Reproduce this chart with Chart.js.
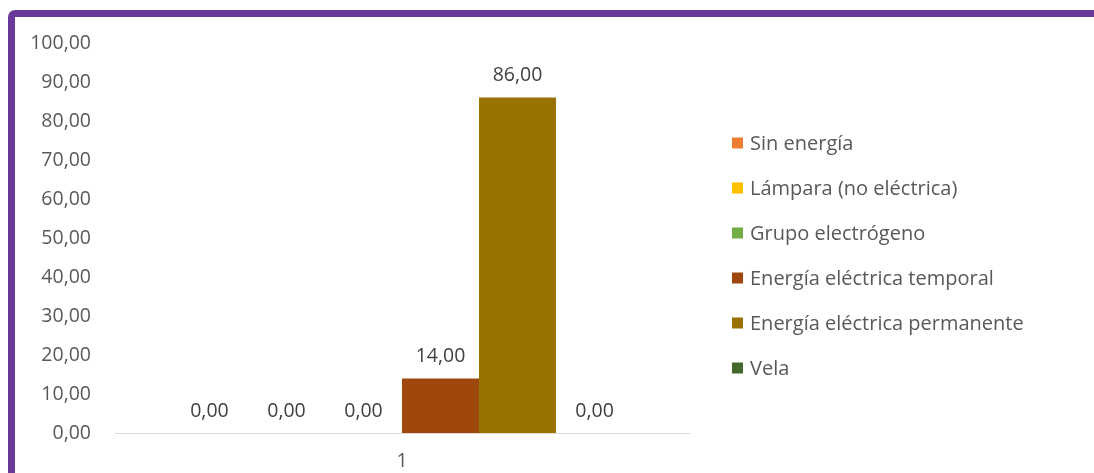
<!DOCTYPE html>
<html>
<head>
<meta charset="utf-8">
<script src="https://cdn.jsdelivr.net/npm/chart.js@4"></script>
<style>
  html, body { margin:0; padding:0; background:#ffffff; overflow:hidden; }
  #frame { position:absolute; left:8px; top:10px; width:1200px; height:600px;
           border:7px solid #6a3a9a; border-radius:7px; box-sizing:border-box; }
  #wrap { position:absolute; left:0; top:0; width:1094px; height:473px; }
</style>
</head>
<body>
<div id="frame"></div>
<div id="wrap"><canvas id="c" width="1094" height="473"></canvas></div>
<script>
const categories = ["1"];
const seriesNames = ["Sin energía", "Lámpara (no eléctrica)", "Grupo electrógeno",
                     "Energía eléctrica temporal", "Energía eléctrica permanente", "Vela"];
const seriesValues = [0, 0, 0, 14, 86, 0];
const seriesColors = ["#ED7D31", "#FFC000", "#70AD47", "#9E480E", "#997300", "#43682B"];
const yTicks = [0, 10, 20, 30, 40, 50, 60, 70, 80, 90, 100];

const fmt = v => Number(v).toFixed(2).replace('.', ',');
const FONT = "'Open Sans', 'Noto Sans', sans-serif";

const datasets = seriesNames.map((n, i) => ({
  label: n,
  data: [seriesValues[i]],
  backgroundColor: seriesColors[i],
  borderWidth: 0,
  categoryPercentage: 0.805,
  barPercentage: 1.0
}));

const labelPlugin = {
  id: 'labelsAndLegend',
  afterDraw(chart) {
    const ctx = chart.ctx;
    ctx.save();
    // data labels
    ctx.font = "19.5px " + FONT;
    ctx.fillStyle = "#404040";
    ctx.textAlign = "center";
    ctx.textBaseline = "middle";
    chart.data.datasets.forEach((ds, i) => {
      const meta = chart.getDatasetMeta(i);
      meta.data.forEach((el, j) => {
        ctx.fillText(fmt(ds.data[j]), el.x, el.y - 22);
      });
    });
    // legend
    ctx.font = "20px " + FONT;
    ctx.textAlign = "left";
    chart.data.datasets.forEach((ds, i) => {
      const y = 143 + i * 45;
      ctx.fillStyle = ds.backgroundColor;
      ctx.fillRect(732, y - 5.5, 11, 11);
      ctx.fillStyle = "#595959";
      ctx.fillText(ds.label, 750, y + 1);
    });
    ctx.restore();
  }
};

new Chart(document.getElementById('c'), {
  type: 'bar',
  data: { labels: categories, datasets },
  options: {
    responsive: false,
    animation: false,
    layout: { padding: { left: 0, right: 405, top: 43, bottom: 0 } },
    plugins: { legend: { display: false }, tooltip: { enabled: false } },
    scales: {
      x: {
        grid: { display: false, drawTicks: false },
        border: { display: true, color: "#d9d9d9", width: 1 },
        ticks: { color: "#595959", font: { family: FONT, size: 19.5 }, padding: 17 },
        afterFit(axis) { axis.height = 40; }
      },
      y: {
        min: 0, max: 100,
        afterBuildTicks(axis) { axis.ticks = yTicks.map(v => ({ value: v })); },
        grid: { display: false, drawTicks: false },
        border: { display: false },
        ticks: { color: "#595959", font: { family: FONT, size: 19.5 }, padding: 24,
                 callback: v => fmt(v) },
        afterFit(axis) { axis.width = 115; }
      }
    }
  },
  plugins: [labelPlugin]
});
</script>
</body>
</html>
